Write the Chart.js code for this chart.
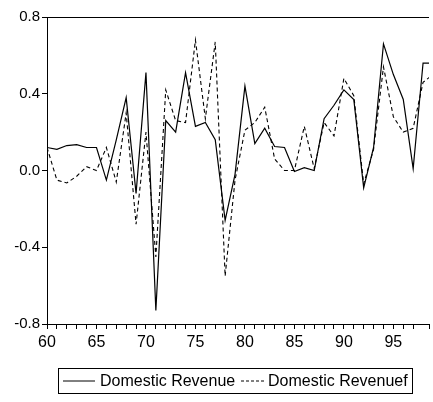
<!DOCTYPE html>
<html>
<head>
<meta charset="utf-8">
<script src="https://cdn.jsdelivr.net/npm/chart.js@4"></script>
<style>
  html, body { margin: 0; padding: 0; background: #fff; }
  #wrap { width: 433px; height: 402px; }
</style>
</head>
<body>
<div id="wrap"><canvas id="myChart" width="433" height="402"></canvas></div>
<script>
const years = [60,61,62,63,64,65,66,67,68,69,70,71,72,73,74,75,76,77,78,79,
               80,81,82,83,84,85,86,87,88,89,90,91,92,93,94,95,96,97,98,99];
const revenue = [0.12,0.11,0.13,0.135,0.12,0.12,-0.05,0.16,0.38,-0.12,
                 0.51,-0.73,0.26,0.2,0.51,0.23,0.25,0.16,-0.26,-0.02,
                 0.44,0.14,0.22,0.125,0.12,-0.005,0.015,0.0,0.27,0.34,
                 0.42,0.37,-0.09,0.12,0.66,0.5,0.37,0.01,0.56,0.56];
const revenueF = [0.12,-0.05,-0.065,-0.03,0.02,0.0,0.12,-0.06,0.3,-0.28,
                  0.2,-0.45,0.42,0.26,0.25,0.68,0.27,0.67,-0.55,-0.05,
                  0.21,0.25,0.33,0.06,0.0,0.0,0.23,0.01,0.25,0.18,
                  0.48,0.39,-0.07,0.11,0.54,0.28,0.2,0.22,0.46,0.5];
const seriesNames = ['Domestic Revenue', 'Domestic Revenuef'];
const yTicks = [-0.8, -0.4, 0.0, 0.4, 0.8];

const FONT = '"Liberation Sans", Arial, sans-serif';

function pts(vals) {
  return years.map((y, i) => ({ x: y, y: vals[i] }));
}

// top border of the plot + legend box at the bottom
const frame = {
  id: 'frame',
  afterDraw(chart) {
    const { ctx, chartArea: a } = chart;
    ctx.save();
    ctx.strokeStyle = '#000';
    ctx.lineWidth = 1;
    ctx.beginPath();
    ctx.moveTo(a.left, a.top + 0.5);
    ctx.lineTo(a.right, a.top + 0.5);
    ctx.stroke();

    // legend
    const bx = 58.5, by = 368.5, bw = 354, bh = 25;
    ctx.strokeRect(bx, by, bw, bh);
    ctx.beginPath();
    ctx.rect(bx, by, bw, bh);
    ctx.clip();
    const ly = by + bh / 2;
    ctx.font = '16px ' + FONT;
    ctx.fillStyle = '#000';
    ctx.textBaseline = 'middle';
    ctx.lineWidth = 1;
    ctx.beginPath();
    ctx.moveTo(63, ly); ctx.lineTo(95, ly);
    ctx.stroke();
    ctx.fillText(seriesNames[0], 100, ly + 1);
    ctx.setLineDash([3, 2]);
    ctx.beginPath();
    ctx.moveTo(241, ly); ctx.lineTo(264, ly);
    ctx.stroke();
    ctx.setLineDash([]);
    ctx.fillText(seriesNames[1], 268, ly + 1);
    ctx.restore();
  }
};

new Chart(document.getElementById('myChart').getContext('2d'), {
  type: 'line',
  data: {
    datasets: [
      {
        label: seriesNames[0],
        data: pts(revenue),
        borderColor: '#000',
        borderWidth: 1.2,
        pointRadius: 0,
        tension: 0
      },
      {
        label: seriesNames[1],
        data: pts(revenueF),
        borderColor: '#000',
        borderWidth: 1.1,
        borderDash: [4, 3],
        pointRadius: 0,
        tension: 0
      }
    ]
  },
  options: {
    responsive: false,
    animation: false,
    layout: { padding: { top: 17, right: 0, bottom: 48, left: 0 } },
    plugins: { legend: { display: false }, tooltip: { enabled: false } },
    scales: {
      x: {
        type: 'linear',
        min: 60,
        max: 98.6,
        afterFit(s) { s.height = 30; },
        grid: { display: true, drawOnChartArea: false, drawTicks: true, tickLength: 5, color: '#000' },
        border: { display: true, color: '#000' },
        ticks: {
          stepSize: 1,
          autoSkip: false,
          maxRotation: 0,
          color: '#000',
          padding: 4,
          font: { family: FONT, size: 16 },
          callback: v => (v % 5 === 0 ? String(v) : '')
        }
      },
      y: {
        min: -0.8,
        max: 0.8,
        afterFit(s) { s.width = 47; },
        afterBuildTicks(s) { s.ticks = yTicks.map(v => ({ value: v })); },
        grid: { display: true, drawOnChartArea: false, drawTicks: true, tickLength: 5, color: '#000' },
        border: { display: true, color: '#000' },
        ticks: {
          color: '#000',
          padding: 2,
          font: { family: FONT, size: 15 },
          callback: v => v.toFixed(1)
        }
      }
    }
  },
  plugins: [frame]
});
</script>
</body>
</html>
